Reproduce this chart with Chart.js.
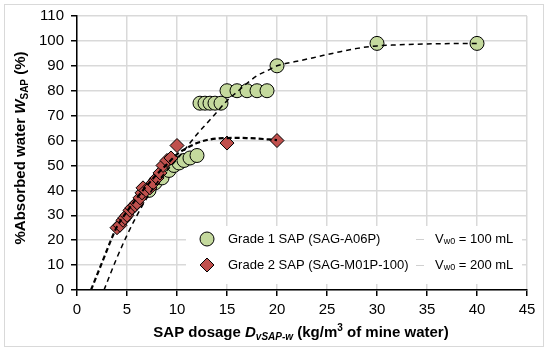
<!DOCTYPE html>
<html>
<head>
<meta charset="utf-8">
<script src="https://cdn.jsdelivr.net/npm/chart.js@4.4.1/dist/chart.umd.min.js"></script>
<style>
  html, body { margin: 0; padding: 0; background: #fff; }
  #wrap { width: 550px; height: 352px; }
</style>
</head>
<body>
<div id="wrap"><canvas id="chart" width="550" height="352"></canvas></div>
<script>
// --- Data ---
const grade1X = [7.2, 7.8, 8.5, 9.2, 9.7, 10.2, 10.7, 11.3, 12.0, 12.3, 12.8, 13.3, 13.8, 14.4, 15, 16, 17, 18, 19, 20, 30, 40];
const grade1Y = [40, 43, 45, 48, 50, 51, 52, 53, 54, 75, 75, 75, 75, 75, 80, 80, 80, 80, 80, 90, 99, 99];

const grade2X = [4.0, 4.3, 4.6, 4.8, 5.0, 5.3, 5.5, 5.8, 6.0, 6.3, 6.5, 6.6, 6.9, 7.3, 7.6, 8.0, 8.3, 8.6, 9.0, 9.4, 10, 15, 20];
const grade2Y = [25, 26, 28, 29, 30, 32, 33, 34, 35, 37, 39, 41, 40, 41, 43, 45, 47, 50, 52, 53, 58, 59, 60];

// dashed trend lines (V_w0 = 100 mL and 200 mL)
const trend1X = [2.7, 4, 5, 6, 7, 8, 9, 10, 11, 12, 13, 14, 15, 16, 17, 18, 19, 20, 22, 24, 26, 28, 30, 32, 35, 40];
const trend1Y = [0, 13, 22, 30, 37, 43, 48, 52.5, 57.5, 62.5, 67, 71.5, 76, 79.5, 83, 86, 88, 90, 91.8, 93.6, 95.4, 97, 98, 98.4, 98.8, 99];
const trend2X = [1.4, 2.5, 3.5, 4, 5, 6, 7, 8, 9, 10, 11, 12, 13, 14, 15, 16, 17, 18, 19, 20];
const trend2Y = [0, 11, 21, 25.5, 31.5, 37, 42, 46.5, 50.5, 54.5, 57, 59, 60.2, 60.8, 61, 61.1, 61, 60.8, 60.5, 60.2];

const xTicks = [0, 5, 10, 15, 20, 25, 30, 35, 40, 45];
const yTicks = [0, 10, 20, 30, 40, 50, 60, 70, 80, 90, 100, 110];

const seriesLabels = ['Grade 1 SAP (SAG-A06P)', 'Grade 2 SAP (SAG-M01P-100)'];
const trendLabels = [' = 100 mL', ' = 200 mL'];

const GREEN = '#c4d99d';
const RED = '#c0504d';
const FONT = '"Liberation Sans", Arial, sans-serif';

function toPoints(xs, ys) {
    return xs.map((x, i) => ({ x: x, y: ys[i] }));
}

// draws a run of text pieces with different fonts / baseline shifts
function drawRich(ctx, parts, cx, cy) {
    let total = 0;
    parts.forEach(p => { ctx.font = p.font; total += ctx.measureText(p.t).width; });
    let x = cx - total / 2;
    parts.forEach(p => {
        ctx.font = p.font;
        ctx.fillText(p.t, x, cy + (p.dy || 0));
        x += ctx.measureText(p.t).width;
    });
}

function drawRichLeft(ctx, parts, x, cy) {
    parts.forEach(p => {
        ctx.font = p.font;
        ctx.fillText(p.t, x, cy + (p.dy || 0));
        x += ctx.measureText(p.t).width;
    });
}

const decorPlugin = {
    id: 'decor',
    beforeDraw(chart) {
        const ctx = chart.ctx;
        ctx.save();
        ctx.fillStyle = '#fff';
        ctx.fillRect(0, 0, chart.width, chart.height);
        ctx.strokeStyle = '#d9d9d9';
        ctx.lineWidth = 1;
        ctx.strokeRect(4.5, 4.5, 539, 342);
        ctx.restore();
    },
    afterDraw(chart) {
        const ctx = chart.ctx;
        ctx.save();
        ctx.fillStyle = '#000';
        ctx.textBaseline = 'alphabetic';

        // x axis title
        const b = 'bold 15px ' + FONT;
        const bi = 'italic bold 15px ' + FONT;
        const bis = 'italic bold 10px ' + FONT;
        const bs = 'bold 10px ' + FONT;
        drawRich(ctx, [
            { t: 'SAP dosage ', font: b },
            { t: 'D', font: bi },
            { t: 'vSAP-w', font: bis, dy: 3 },
            { t: ' (kg/m', font: b },
            { t: '3', font: bs, dy: -6 },
            { t: ' of mine water)', font: b }
        ], 301, 337);

        // y axis title
        ctx.save();
        ctx.translate(25, 148);
        ctx.rotate(-Math.PI / 2);
        drawRich(ctx, [
            { t: '%Absorbed water ', font: b },
            { t: 'W', font: bi },
            { t: 'SAP', font: bs, dy: 3 },
            { t: ' (%)', font: b }
        ], 0, 0);
        ctx.restore();

        // legend box
        ctx.fillStyle = '#fff';
        ctx.fillRect(186, 226, 336, 58);
        const rows = [239, 265];
        const f = '13px ' + FONT;
        const fs = '9px ' + FONT;
        ctx.textBaseline = 'middle';
        rows.forEach((y, i) => {
            // marker
            ctx.beginPath();
            if (i === 0) {
                ctx.arc(207, y, 7, 0, Math.PI * 2);
                ctx.fillStyle = GREEN;
            } else {
                ctx.moveTo(207, y - 7); ctx.lineTo(214, y);
                ctx.lineTo(207, y + 7); ctx.lineTo(200, y);
                ctx.closePath();
                ctx.fillStyle = RED;
            }
            ctx.fill();
            ctx.lineWidth = 1;
            ctx.strokeStyle = '#000';
            ctx.stroke();

            ctx.fillStyle = '#000';
            ctx.font = f;
            ctx.fillText(seriesLabels[i], 228, y);

            // trend line sample
            ctx.strokeStyle = '#d0d0d0';
            ctx.lineWidth = 1;
            ctx.beginPath();
            ctx.moveTo(416, y + 0.5); ctx.lineTo(424, y + 0.5);
            ctx.stroke();

            ctx.fillStyle = '#000';
            drawRichLeft(ctx, [
                { t: 'V', font: f },
                { t: 'w0', font: fs, dy: 3 },
                { t: trendLabels[i], font: f }
            ], 435, y);
        });
        ctx.restore();
    }
};

const ctx = document.getElementById('chart').getContext('2d');
new Chart(ctx, {
    type: 'scatter',
    data: {
        datasets: [{
            label: 'Vw0 = 100 mL',
            data: toPoints(trend1X, trend1Y),
            showLine: true,
            borderColor: '#000',
            borderWidth: 1.5,
            borderDash: [5, 4],
            pointRadius: 0,
            cubicInterpolationMode: 'monotone',
            fill: false
        }, {
            label: 'Vw0 = 200 mL',
            data: toPoints(trend2X, trend2Y),
            showLine: true,
            borderColor: '#000',
            borderWidth: 2.2,
            borderDash: [5, 3],
            pointRadius: 0,
            cubicInterpolationMode: 'monotone',
            fill: false
        }, {
            label: seriesLabels[1],
            data: toPoints(grade2X, grade2Y),
            pointStyle: 'rectRot',
            pointRadius: 7,
            pointBackgroundColor: RED,
            pointBorderColor: '#000',
            pointBorderWidth: 1
        }, {
            label: seriesLabels[0],
            data: toPoints(grade1X, grade1Y),
            pointStyle: 'circle',
            pointRadius: 7,
            pointBackgroundColor: GREEN,
            pointBorderColor: '#000',
            pointBorderWidth: 1
        }]
    },
    options: {
        responsive: false,
        animation: false,
        events: [],
        layout: { padding: { left: 0, right: 23, top: 16, bottom: 0 } },
        plugins: {
            legend: { display: false },
            tooltip: { enabled: false }
        },
        scales: {
            x: {
                type: 'linear',
                min: 0,
                max: 45,
                afterFit: s => { s.height = 62; },
                afterBuildTicks: s => { s.ticks = xTicks.map(v => ({ value: v })); },
                grid: { color: '#d9d9d9', lineWidth: 1.5, tickColor: '#000', tickLength: 6, tickWidth: 1.5 },
                border: { color: '#000', width: 1.5 },
                ticks: { color: '#000', font: { family: FONT, size: 15 }, padding: 5, maxRotation: 0 }
            },
            y: {
                type: 'linear',
                min: 0,
                max: 110,
                afterFit: s => { s.width = 77; },
                afterBuildTicks: s => { s.ticks = yTicks.map(v => ({ value: v })); },
                grid: { color: '#d9d9d9', lineWidth: 1.5, tickColor: '#000', tickLength: 6, tickWidth: 1.5 },
                border: { color: '#000', width: 1.5 },
                ticks: { color: '#000', font: { family: FONT, size: 15 }, padding: 7 }
            }
        }
    },
    plugins: [decorPlugin]
});
</script>
</body>
</html>
